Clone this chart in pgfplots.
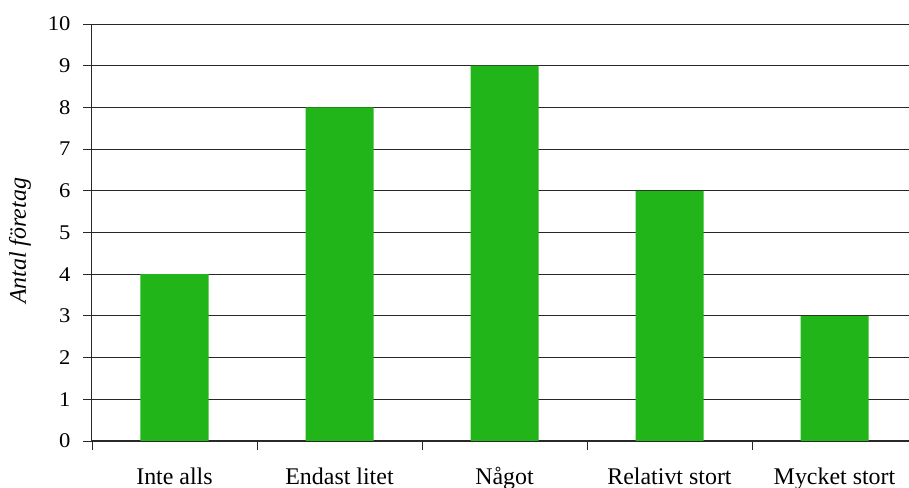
\documentclass[border=0pt]{standalone}
\usepackage{pgfplots}
\pgfplotsset{compat=1.18}
\usepackage{fontspec}
\setmainfont{Liberation Serif}
\newfontfamily\tickfont[FakeStretch=1.08]{Liberation Serif}
\definecolor{bargreen}{RGB}{33,181,25}
\definecolor{gridgray}{RGB}{40,40,40}

\begin{document}
\begin{tikzpicture}[x=1bp,y=1bp]
% page frame: axis origin sits 92bp from the left and 47bp from the bottom
\useasboundingbox (-92,-47) rectangle (817,441);
\clip (-92,-47) rectangle (817,441);
\begin{axis}[
  at={(0,0)}, anchor=south west,
  scale only axis,
  width=825bp, height=417bp,
  xmin=-0.5, xmax=4.5,
  ymin=0, ymax=10,
  ytick={0,...,10},
  % separators between categories carry the ticks, names sit on extra ticks
  xtick={-0.5,0.5,1.5,2.5,3.5,4.5},
  xticklabels={},
  extra x ticks={0,1,2,3,4},
  extra x tick labels={Inte alls, Endast litet, Något, Relativt stort, Mycket stort},
  extra x tick style={major tick length=0bp, grid=none,
    xticklabel style={font=\fontsize{24}{26}\selectfont, yshift=-23bp}},
  axis x line*=bottom,
  axis y line*=left,
  axis line style={line width=1bp, draw=gridgray, -},
  tick align=outside,
  major tick length=9bp,
  xtick style={line width=0.8bp, draw=gridgray},
  ytick style={line width=0.8bp, draw=gridgray},
  ymajorgrids,
  major grid style={line width=0.8bp, draw=gridgray},
  ybar, bar width=68bp,
  yticklabel style={font=\tickfont\fontsize{21}{22}\selectfont, xshift=-9bp},
  /pgf/number format/assume math mode=true,
  ylabel={Antal företag},
  ylabel style={font=\itshape\fontsize{24}{26}\selectfont, at={(axis description cs:0,0.48)}, anchor=center, yshift=72bp},
]
\addplot[fill=bargreen, draw=none] coordinates {(0,4) (1,8) (2,9) (3,6) (4,3)};
\end{axis}
\end{tikzpicture}
\end{document}
